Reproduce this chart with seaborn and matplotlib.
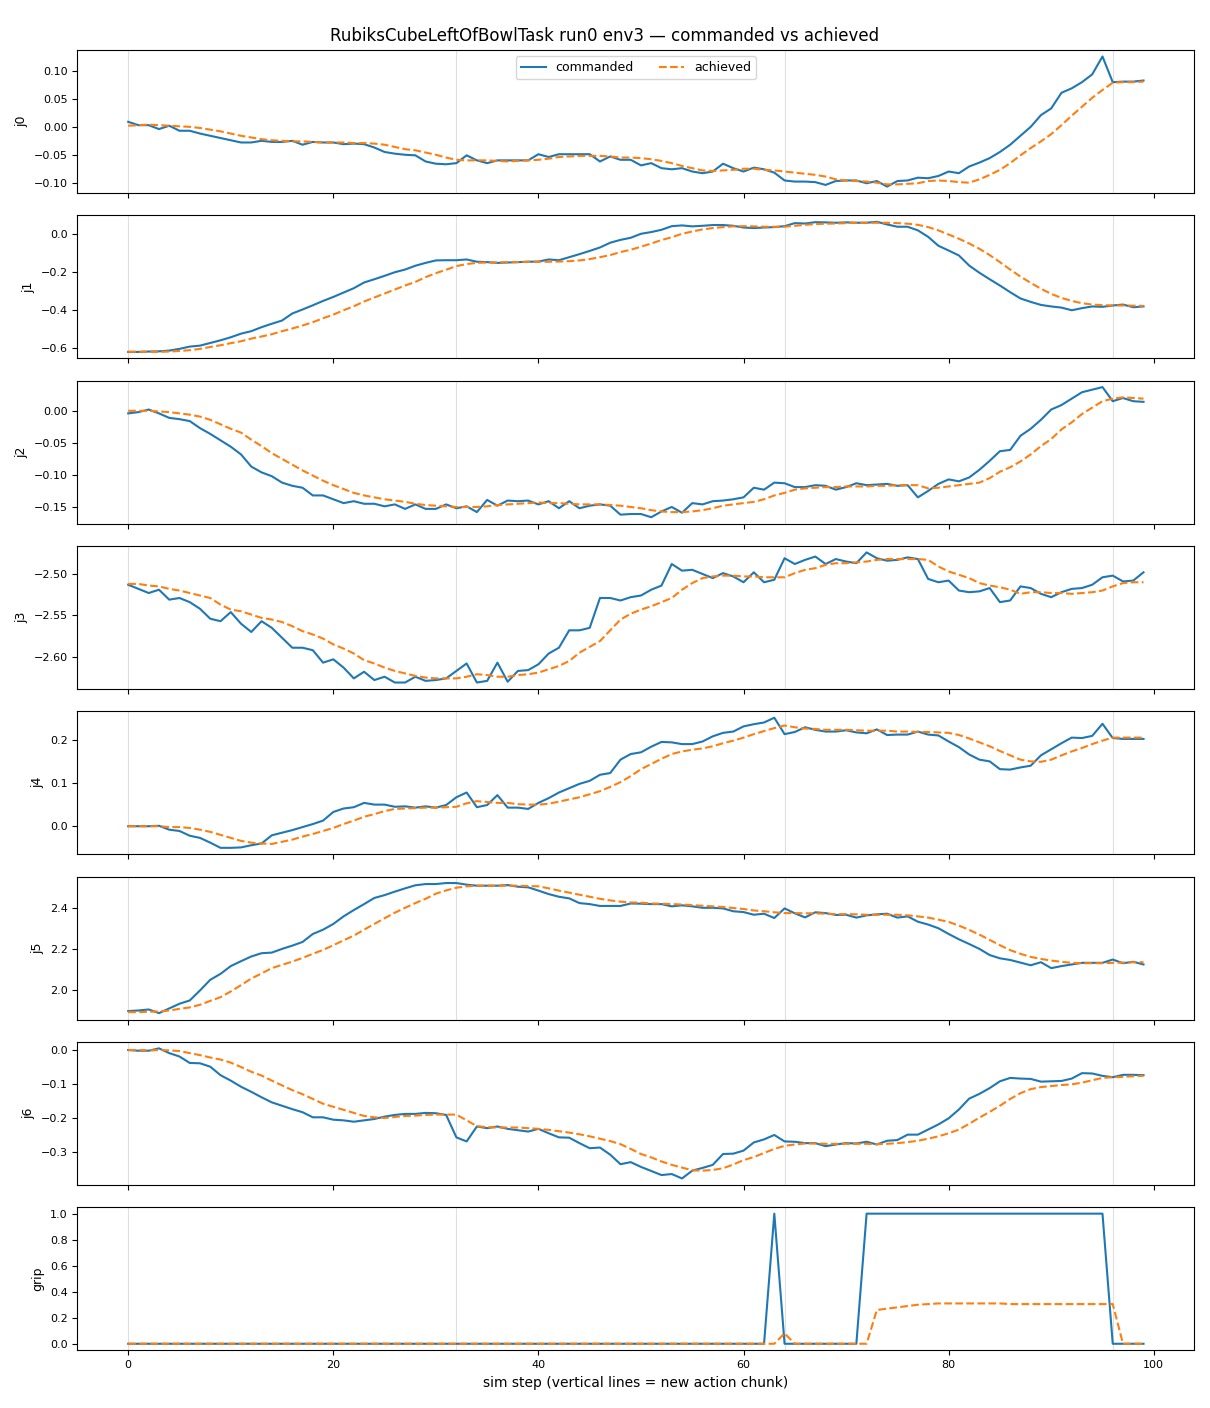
#!/usr/bin/env python
# -*- coding: utf-8 -*-

"""
Commanded vs achieved joint positions for one rollout
(RubiksCubeLeftOfBowlTask, run0, env3). One panel per joint plus gripper.
"""

import numpy as np
import matplotlib
matplotlib.use("Agg")
import matplotlib.pyplot as plt
import seaborn as sns

# ============ Data ============

steps = list(range(100))
chunk_starts = [0, 32, 64, 96]
joint_names = ["j0", "j1", "j2", "j3", "j4", "j5", "j6", "grip"]

j0_cmd = [0.009, 0.003, 0.003, -0.004, 0.002, -0.007, -0.007, -0.012, -0.016, -0.020,
          -0.024, -0.028, -0.028, -0.025, -0.027, -0.027, -0.025, -0.032, -0.027, -0.028,
          -0.028, -0.031, -0.030, -0.031, -0.037, -0.045, -0.048, -0.050, -0.051, -0.062,
          -0.066, -0.067, -0.065, -0.051, -0.060, -0.065, -0.060, -0.060, -0.060, -0.060,
          -0.049, -0.054, -0.049, -0.049, -0.049, -0.049, -0.062, -0.053, -0.059, -0.059,
          -0.069, -0.065, -0.074, -0.076, -0.074, -0.080, -0.083, -0.080, -0.066, -0.074,
          -0.080, -0.073, -0.076, -0.082, -0.096, -0.098, -0.098, -0.099, -0.104, -0.097,
          -0.096, -0.096, -0.101, -0.097, -0.107, -0.097, -0.096, -0.091, -0.092, -0.088,
          -0.080, -0.083, -0.071, -0.064, -0.056, -0.045, -0.032, -0.016, 0.000, 0.021,
          0.033, 0.061, 0.069, 0.080, 0.094, 0.126, 0.080, 0.081, 0.081, 0.083]
j0_ach = [0.002, 0.003, 0.004, 0.003, 0.002, 0.001, 0.000, -0.002, -0.005, -0.008,
          -0.012, -0.016, -0.019, -0.022, -0.024, -0.025, -0.026, -0.026, -0.027, -0.028,
          -0.028, -0.028, -0.029, -0.029, -0.030, -0.032, -0.036, -0.040, -0.042, -0.046,
          -0.050, -0.055, -0.059, -0.060, -0.060, -0.060, -0.061, -0.062, -0.061, -0.060,
          -0.059, -0.057, -0.054, -0.053, -0.052, -0.052, -0.052, -0.053, -0.055, -0.055,
          -0.056, -0.058, -0.061, -0.065, -0.070, -0.074, -0.078, -0.079, -0.078, -0.077,
          -0.075, -0.075, -0.077, -0.078, -0.080, -0.082, -0.084, -0.086, -0.089, -0.094,
          -0.096, -0.097, -0.098, -0.100, -0.103, -0.103, -0.102, -0.101, -0.097, -0.096,
          -0.097, -0.099, -0.100, -0.094, -0.086, -0.077, -0.065, -0.051, -0.038, -0.026,
          -0.013, 0.003, 0.020, 0.036, 0.052, 0.066, 0.079, 0.080, 0.080, 0.081]

j1_cmd = [-0.621, -0.621, -0.619, -0.618, -0.614, -0.605, -0.593, -0.588, -0.574, -0.560,
          -0.544, -0.525, -0.512, -0.491, -0.473, -0.456, -0.419, -0.398, -0.376, -0.353,
          -0.332, -0.309, -0.286, -0.256, -0.239, -0.221, -0.202, -0.188, -0.168, -0.153,
          -0.140, -0.139, -0.139, -0.135, -0.147, -0.149, -0.153, -0.151, -0.149, -0.147,
          -0.146, -0.135, -0.139, -0.123, -0.107, -0.090, -0.072, -0.047, -0.032, -0.021,
          0.000, 0.009, 0.021, 0.040, 0.044, 0.039, 0.042, 0.046, 0.046, 0.042,
          0.033, 0.030, 0.033, 0.035, 0.040, 0.056, 0.054, 0.061, 0.060, 0.058,
          0.060, 0.058, 0.058, 0.063, 0.049, 0.037, 0.037, 0.018, -0.016, -0.063,
          -0.088, -0.114, -0.167, -0.205, -0.239, -0.272, -0.307, -0.340, -0.358, -0.374,
          -0.382, -0.388, -0.402, -0.391, -0.382, -0.384, -0.377, -0.372, -0.386, -0.382]
j1_ach = [-0.620, -0.620, -0.620, -0.621, -0.619, -0.616, -0.612, -0.605, -0.595, -0.586,
          -0.575, -0.565, -0.551, -0.540, -0.528, -0.512, -0.498, -0.482, -0.465, -0.444,
          -0.425, -0.402, -0.381, -0.356, -0.335, -0.314, -0.293, -0.272, -0.253, -0.228,
          -0.207, -0.189, -0.170, -0.159, -0.153, -0.151, -0.151, -0.149, -0.149, -0.147,
          -0.147, -0.147, -0.146, -0.144, -0.140, -0.133, -0.123, -0.112, -0.096, -0.084,
          -0.068, -0.051, -0.033, -0.018, 0.000, 0.012, 0.023, 0.030, 0.035, 0.039,
          0.040, 0.039, 0.037, 0.037, 0.037, 0.042, 0.047, 0.051, 0.053, 0.054,
          0.056, 0.058, 0.058, 0.058, 0.058, 0.056, 0.053, 0.047, 0.035, 0.018,
          -0.004, -0.026, -0.051, -0.079, -0.112, -0.149, -0.188, -0.225, -0.258, -0.289,
          -0.316, -0.337, -0.353, -0.365, -0.372, -0.375, -0.377, -0.377, -0.378, -0.379]

j2_cmd = [-0.004, -0.002, 0.002, -0.004, -0.011, -0.013, -0.016, -0.027, -0.036, -0.046,
          -0.056, -0.068, -0.087, -0.096, -0.102, -0.112, -0.117, -0.120, -0.132, -0.132,
          -0.138, -0.144, -0.141, -0.145, -0.145, -0.149, -0.146, -0.153, -0.146, -0.153,
          -0.153, -0.146, -0.152, -0.149, -0.158, -0.139, -0.148, -0.140, -0.141, -0.140,
          -0.146, -0.141, -0.152, -0.141, -0.152, -0.148, -0.146, -0.148, -0.162, -0.161,
          -0.161, -0.166, -0.157, -0.150, -0.159, -0.144, -0.146, -0.141, -0.140, -0.138,
          -0.135, -0.120, -0.123, -0.112, -0.113, -0.119, -0.119, -0.116, -0.117, -0.123,
          -0.119, -0.113, -0.116, -0.115, -0.114, -0.117, -0.116, -0.135, -0.125, -0.114,
          -0.107, -0.110, -0.104, -0.092, -0.078, -0.063, -0.061, -0.039, -0.028, -0.014,
          0.002, 0.009, 0.019, 0.029, 0.033, 0.037, 0.015, 0.020, 0.015, 0.014]
j2_ach = [0.000, 0.000, 0.000, -0.001, -0.002, -0.004, -0.006, -0.009, -0.014, -0.021,
          -0.028, -0.034, -0.045, -0.055, -0.066, -0.075, -0.084, -0.093, -0.101, -0.109,
          -0.116, -0.122, -0.128, -0.132, -0.135, -0.138, -0.140, -0.142, -0.145, -0.147,
          -0.148, -0.149, -0.150, -0.150, -0.150, -0.149, -0.147, -0.146, -0.145, -0.144,
          -0.143, -0.144, -0.144, -0.145, -0.146, -0.146, -0.146, -0.147, -0.148, -0.150,
          -0.152, -0.155, -0.157, -0.158, -0.158, -0.157, -0.155, -0.152, -0.148, -0.146,
          -0.144, -0.142, -0.138, -0.132, -0.128, -0.123, -0.121, -0.120, -0.119, -0.119,
          -0.118, -0.118, -0.118, -0.117, -0.117, -0.116, -0.116, -0.116, -0.121, -0.120,
          -0.118, -0.116, -0.114, -0.112, -0.105, -0.095, -0.088, -0.079, -0.068, -0.055,
          -0.044, -0.029, -0.018, -0.005, 0.005, 0.015, 0.019, 0.021, 0.020, 0.019]

j3_cmd = [-2.513, -2.518, -2.523, -2.519, -2.531, -2.529, -2.534, -2.542, -2.554, -2.557,
          -2.546, -2.560, -2.570, -2.557, -2.565, -2.577, -2.589, -2.589, -2.592, -2.607,
          -2.603, -2.613, -2.626, -2.618, -2.628, -2.624, -2.631, -2.631, -2.624, -2.629,
          -2.628, -2.626, -2.617, -2.608, -2.631, -2.629, -2.607, -2.630, -2.617, -2.616,
          -2.609, -2.596, -2.589, -2.568, -2.568, -2.565, -2.529, -2.529, -2.532, -2.528,
          -2.526, -2.519, -2.514, -2.488, -2.496, -2.495, -2.500, -2.505, -2.499, -2.503,
          -2.510, -2.498, -2.510, -2.507, -2.481, -2.488, -2.483, -2.479, -2.488, -2.482,
          -2.485, -2.487, -2.474, -2.481, -2.484, -2.483, -2.480, -2.482, -2.506, -2.510,
          -2.508, -2.520, -2.522, -2.521, -2.517, -2.534, -2.532, -2.515, -2.517, -2.524,
          -2.528, -2.522, -2.518, -2.517, -2.513, -2.504, -2.502, -2.509, -2.508, -2.498]
j3_ach = [-2.512, -2.512, -2.514, -2.515, -2.518, -2.520, -2.523, -2.526, -2.529, -2.537,
          -2.543, -2.545, -2.549, -2.553, -2.555, -2.558, -2.563, -2.569, -2.573, -2.578,
          -2.585, -2.590, -2.596, -2.604, -2.608, -2.613, -2.617, -2.620, -2.623, -2.625,
          -2.626, -2.626, -2.626, -2.624, -2.621, -2.622, -2.624, -2.624, -2.622, -2.621,
          -2.619, -2.615, -2.611, -2.605, -2.595, -2.588, -2.581, -2.568, -2.555, -2.548,
          -2.543, -2.539, -2.534, -2.529, -2.519, -2.511, -2.505, -2.503, -2.502, -2.502,
          -2.503, -2.503, -2.504, -2.504, -2.504, -2.499, -2.495, -2.493, -2.489, -2.487,
          -2.487, -2.486, -2.485, -2.483, -2.482, -2.482, -2.482, -2.482, -2.483, -2.491,
          -2.497, -2.501, -2.505, -2.511, -2.514, -2.516, -2.519, -2.524, -2.522, -2.522,
          -2.523, -2.523, -2.524, -2.523, -2.522, -2.520, -2.515, -2.511, -2.510, -2.510]

j4_cmd = [0.000, 0.000, 0.000, 0.001, -0.008, -0.011, -0.022, -0.027, -0.038, -0.050,
          -0.050, -0.049, -0.044, -0.040, -0.021, -0.015, -0.009, -0.002, 0.005, 0.013,
          0.033, 0.041, 0.044, 0.054, 0.050, 0.050, 0.045, 0.046, 0.043, 0.046,
          0.043, 0.049, 0.067, 0.078, 0.044, 0.049, 0.072, 0.043, 0.043, 0.040,
          0.054, 0.065, 0.078, 0.088, 0.098, 0.105, 0.119, 0.123, 0.154, 0.167,
          0.171, 0.184, 0.195, 0.194, 0.190, 0.190, 0.196, 0.208, 0.216, 0.219,
          0.231, 0.236, 0.240, 0.251, 0.213, 0.218, 0.229, 0.223, 0.219, 0.219,
          0.222, 0.217, 0.215, 0.224, 0.211, 0.212, 0.212, 0.219, 0.212, 0.210,
          0.196, 0.183, 0.166, 0.154, 0.150, 0.132, 0.131, 0.136, 0.140, 0.164,
          0.178, 0.192, 0.205, 0.204, 0.209, 0.237, 0.204, 0.202, 0.202, 0.202]
j4_ach = [0.000, 0.000, 0.000, 0.000, -0.002, -0.002, -0.004, -0.008, -0.013, -0.020,
          -0.027, -0.034, -0.038, -0.040, -0.041, -0.036, -0.031, -0.024, -0.018, -0.011,
          -0.004, 0.005, 0.013, 0.022, 0.028, 0.035, 0.040, 0.041, 0.042, 0.043,
          0.043, 0.044, 0.045, 0.053, 0.058, 0.056, 0.054, 0.054, 0.051, 0.050,
          0.050, 0.052, 0.057, 0.062, 0.067, 0.074, 0.081, 0.091, 0.102, 0.116,
          0.132, 0.144, 0.156, 0.167, 0.173, 0.177, 0.180, 0.185, 0.192, 0.198,
          0.205, 0.213, 0.220, 0.227, 0.233, 0.229, 0.226, 0.225, 0.223, 0.223,
          0.223, 0.222, 0.221, 0.221, 0.221, 0.219, 0.219, 0.218, 0.218, 0.217,
          0.216, 0.211, 0.203, 0.194, 0.185, 0.174, 0.164, 0.154, 0.150, 0.149,
          0.154, 0.164, 0.173, 0.181, 0.190, 0.198, 0.205, 0.205, 0.205, 0.205]

j5_cmd = [1.896, 1.899, 1.904, 1.886, 1.909, 1.932, 1.948, 1.997, 2.049, 2.078,
          2.116, 2.140, 2.163, 2.179, 2.182, 2.200, 2.216, 2.234, 2.273, 2.294,
          2.322, 2.359, 2.390, 2.419, 2.449, 2.463, 2.480, 2.496, 2.511, 2.517,
          2.517, 2.522, 2.522, 2.514, 2.509, 2.509, 2.509, 2.512, 2.504, 2.501,
          2.485, 2.468, 2.455, 2.447, 2.424, 2.419, 2.410, 2.410, 2.410, 2.422,
          2.421, 2.419, 2.419, 2.408, 2.413, 2.408, 2.401, 2.401, 2.398, 2.384,
          2.380, 2.367, 2.372, 2.351, 2.398, 2.374, 2.354, 2.379, 2.375, 2.366,
          2.367, 2.353, 2.364, 2.369, 2.372, 2.353, 2.359, 2.333, 2.319, 2.301,
          2.273, 2.247, 2.224, 2.200, 2.170, 2.154, 2.146, 2.133, 2.120, 2.135,
          2.106, 2.116, 2.124, 2.132, 2.132, 2.132, 2.148, 2.130, 2.137, 2.124]
j5_ach = [1.891, 1.891, 1.893, 1.894, 1.899, 1.907, 1.914, 1.927, 1.946, 1.964,
          1.992, 2.023, 2.055, 2.080, 2.106, 2.122, 2.138, 2.156, 2.176, 2.195,
          2.218, 2.242, 2.265, 2.294, 2.322, 2.350, 2.377, 2.401, 2.424, 2.445,
          2.470, 2.486, 2.499, 2.506, 2.509, 2.509, 2.509, 2.509, 2.509, 2.507,
          2.506, 2.496, 2.485, 2.475, 2.465, 2.455, 2.445, 2.437, 2.431, 2.427,
          2.426, 2.422, 2.421, 2.419, 2.417, 2.414, 2.411, 2.408, 2.405, 2.400,
          2.395, 2.388, 2.384, 2.379, 2.375, 2.375, 2.374, 2.374, 2.372, 2.370,
          2.370, 2.369, 2.367, 2.367, 2.367, 2.367, 2.364, 2.359, 2.353, 2.343,
          2.332, 2.314, 2.293, 2.270, 2.244, 2.218, 2.194, 2.176, 2.161, 2.151,
          2.143, 2.137, 2.132, 2.130, 2.130, 2.130, 2.132, 2.133, 2.135, 2.135]

j6_cmd = [0.000, -0.002, -0.002, 0.005, -0.009, -0.019, -0.038, -0.039, -0.049, -0.074,
          -0.090, -0.108, -0.123, -0.139, -0.154, -0.164, -0.174, -0.183, -0.198, -0.198,
          -0.205, -0.207, -0.211, -0.207, -0.203, -0.196, -0.191, -0.188, -0.188, -0.185,
          -0.186, -0.191, -0.257, -0.269, -0.225, -0.230, -0.225, -0.232, -0.236, -0.240,
          -0.232, -0.245, -0.257, -0.258, -0.274, -0.289, -0.287, -0.308, -0.336, -0.330,
          -0.344, -0.356, -0.368, -0.365, -0.378, -0.355, -0.347, -0.338, -0.306, -0.305,
          -0.296, -0.272, -0.263, -0.250, -0.269, -0.270, -0.274, -0.274, -0.283, -0.278,
          -0.274, -0.275, -0.270, -0.278, -0.267, -0.265, -0.249, -0.249, -0.234, -0.219,
          -0.201, -0.175, -0.143, -0.129, -0.112, -0.092, -0.082, -0.084, -0.085, -0.093,
          -0.092, -0.091, -0.084, -0.068, -0.069, -0.076, -0.080, -0.073, -0.073, -0.074]
j6_ach = [0.000, 0.000, -0.001, 0.000, -0.001, -0.003, -0.009, -0.015, -0.022, -0.028,
          -0.037, -0.050, -0.064, -0.075, -0.090, -0.104, -0.118, -0.130, -0.144, -0.158,
          -0.167, -0.176, -0.185, -0.194, -0.198, -0.200, -0.197, -0.194, -0.193, -0.191,
          -0.190, -0.190, -0.190, -0.207, -0.224, -0.227, -0.228, -0.228, -0.228, -0.230,
          -0.232, -0.235, -0.239, -0.243, -0.248, -0.254, -0.261, -0.268, -0.277, -0.291,
          -0.306, -0.316, -0.328, -0.338, -0.346, -0.354, -0.355, -0.353, -0.348, -0.337,
          -0.324, -0.315, -0.303, -0.291, -0.282, -0.278, -0.275, -0.275, -0.276, -0.276,
          -0.276, -0.276, -0.276, -0.277, -0.276, -0.274, -0.271, -0.267, -0.261, -0.254,
          -0.245, -0.234, -0.217, -0.199, -0.182, -0.164, -0.144, -0.127, -0.115, -0.109,
          -0.106, -0.103, -0.101, -0.096, -0.089, -0.082, -0.080, -0.079, -0.077, -0.076]

grip_cmd = [0.0, 0.0, 0.0, 0.0, 0.0, 0.0, 0.0, 0.0, 0.0, 0.0,
            0.0, 0.0, 0.0, 0.0, 0.0, 0.0, 0.0, 0.0, 0.0, 0.0,
            0.0, 0.0, 0.0, 0.0, 0.0, 0.0, 0.0, 0.0, 0.0, 0.0,
            0.0, 0.0, 0.0, 0.0, 0.0, 0.0, 0.0, 0.0, 0.0, 0.0,
            0.0, 0.0, 0.0, 0.0, 0.0, 0.0, 0.0, 0.0, 0.0, 0.0,
            0.0, 0.0, 0.0, 0.0, 0.0, 0.0, 0.0, 0.0, 0.0, 0.0,
            0.0, 0.0, 0.0, 1.0, 0.0, 0.0, 0.0, 0.0, 0.0, 0.0,
            0.0, 0.0, 1.0, 1.0, 1.0, 1.0, 1.0, 1.0, 1.0, 1.0,
            1.0, 1.0, 1.0, 1.0, 1.0, 1.0, 1.0, 1.0, 1.0, 1.0,
            1.0, 1.0, 1.0, 1.0, 1.0, 1.0, 0.0, 0.0, 0.0, 0.0]
grip_ach = [0.0, 0.0, 0.0, 0.0, 0.0, 0.0, 0.0, 0.0, 0.0, 0.0,
            0.0, 0.0, 0.0, 0.0, 0.0, 0.0, 0.0, 0.0, 0.0, 0.0,
            0.0, 0.0, 0.0, 0.0, 0.0, 0.0, 0.0, 0.0, 0.0, 0.0,
            0.0, 0.0, 0.0, 0.0, 0.0, 0.0, 0.0, 0.0, 0.0, 0.0,
            0.0, 0.0, 0.0, 0.0, 0.0, 0.0, 0.0, 0.0, 0.0, 0.0,
            0.0, 0.0, 0.0, 0.0, 0.0, 0.0, 0.0, 0.0, 0.0, 0.0,
            0.0, 0.0, 0.0, 0.0, 0.08, 0.0, 0.0, 0.0, 0.0, 0.0,
            0.0, 0.0, 0.0, 0.26, 0.27, 0.28, 0.29, 0.30, 0.305, 0.31,
            0.31, 0.31, 0.31, 0.31, 0.31, 0.31, 0.305, 0.305, 0.305, 0.305,
            0.305, 0.305, 0.305, 0.305, 0.305, 0.305, 0.305, 0.0, 0.0, 0.0]

commanded = [j0_cmd, j1_cmd, j2_cmd, j3_cmd, j4_cmd, j5_cmd, j6_cmd, grip_cmd]
achieved = [j0_ach, j1_ach, j2_ach, j3_ach, j4_ach, j5_ach, j6_ach, grip_ach]

TITLE = "RubiksCubeLeftOfBowlTask run0 env3 \u2014 commanded vs achieved"
XLABEL = "sim step (vertical lines = new action chunk)"

# ============ Plot ============

fig, axes = plt.subplots(len(joint_names), 1, figsize=(12.1, 14.08), sharex=True)
fig.subplots_adjust(left=0.064, right=0.987, top=0.9645, bottom=0.041, hspace=0.155)

for ax, name, cmd, ach in zip(axes, joint_names, commanded, achieved):
    for xs in chunk_starts:
        ax.axvline(xs, color="gray", alpha=0.25, linewidth=0.8, zorder=0)
    sns.lineplot(x=steps, y=cmd, ax=ax, color="C0", linewidth=1.5,
                 label="commanded", legend=False)
    sns.lineplot(x=steps, y=ach, ax=ax, color="C1", linewidth=1.5,
                 linestyle="--", label="achieved", legend=False)
    ax.set_ylabel(name, fontsize=9)
    ax.tick_params(axis="both", labelsize=8)

axes[0].legend(loc="upper center", ncol=2, fontsize=9)
axes[-1].set_xlabel(XLABEL, fontsize=10)
fig.suptitle(TITLE, fontsize=12, y=0.981)

fig.savefig("out.png", dpi=100)
print("Saved: out.png")
